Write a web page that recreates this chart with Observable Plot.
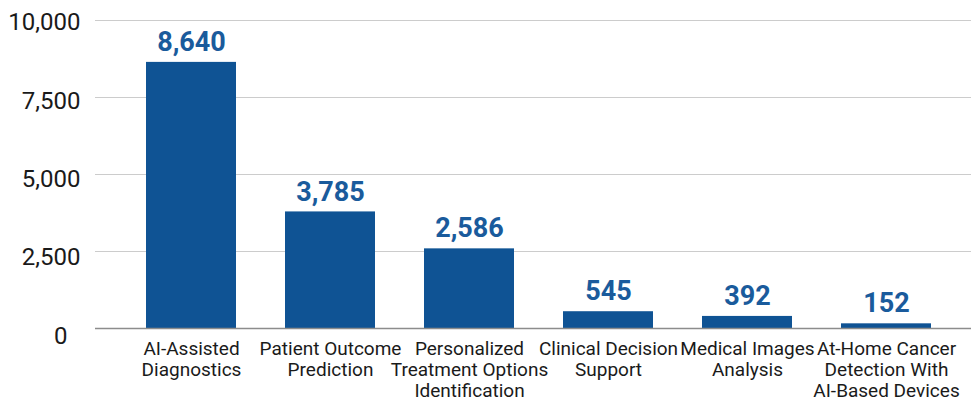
<!DOCTYPE html>
<html>
<head>
<meta charset="utf-8">
<script src="https://cdn.jsdelivr.net/npm/d3@7"></script>
<script src="https://cdn.jsdelivr.net/npm/@observablehq/plot@0.6"></script>
<style>
  html, body { margin: 0; padding: 0; background: #fff; }
  #chart svg { display: block; }
</style>
</head>
<body>
<div id="chart"></div>
<script>
// AI use cases in oncology, counted by application area
const categories = [
  "AI-Assisted\nDiagnostics",
  "Patient Outcome\nPrediction",
  "Personalized\nTreatment Options\nIdentification",
  "Clinical Decision\nSupport",
  "Medical Images\nAnalysis",
  "At-Home Cancer\nDetection With\nAI-Based Devices"
];
const values = [8640, 3785, 2586, 545, 392, 152];
const yTicks = [0, 2500, 5000, 7500, 10000];

const data = categories.map((c, i) => ({category: c, value: values[i]}));

const barColor = "#0f5394";
const labelColor = "#1a5b9c";
const fmt = d3.format(",");

// tick labels sit a little lower toward the baseline
const tickAxes = yTicks.map(t => Plot.axisY([t], {
  tickFormat: fmt, tickSize: 0, tickPadding: 15,
  fontSize: 24, fill: "#1a1a1a",
  dy: 2 + (10000 - t) / 10000 * 5.5,
  dx: t === 0 ? -13 : 0
}));

const chart = Plot.plot({
  width: 971,
  height: 402,
  marginTop: 20,
  marginBottom: 74,
  marginLeft: 95,
  marginRight: 0,
  style: {fontFamily: "Roboto, sans-serif", background: "#fff"},
  x: {domain: categories, paddingInner: 0.355, paddingOuter: 0, insetLeft: 50, insetRight: 39, label: null},
  y: {domain: [0, 10000], label: null, axis: null},
  marks: [
    Plot.ruleY(yTicks.filter(d => d > 0), {stroke: "#cccccc", strokeWidth: 1.2}),
    Plot.barY(data, {x: "category", y: "value", fill: barColor}),
    Plot.ruleY([0], {stroke: "#8c8c8c", strokeWidth: 1.5}),
    Plot.text(data, {
      x: "category", y: "value", text: d => fmt(d.value),
      dy: -20, fill: labelColor, fontSize: 27, fontWeight: "bold"
    }),
    ...tickAxes,
    Plot.axisX({
      tickSize: 0, tickPadding: 11, fontSize: 19, fill: "#1a1a1a",
      lineHeight: 1.12
    })
  ]
});

document.getElementById("chart").appendChild(chart);
</script>
</body>
</html>
